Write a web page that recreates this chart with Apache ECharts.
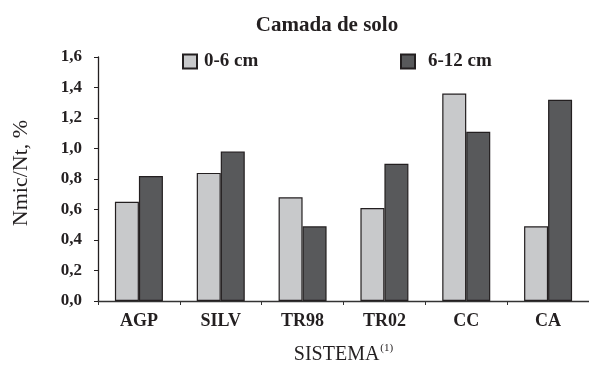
<!DOCTYPE html>
<html>
<head>
<meta charset="utf-8">
<script src="https://cdn.jsdelivr.net/npm/echarts@6/dist/echarts.min.js"></script>
<style>html,body{margin:0;padding:0;background:#fff;}#c{width:589px;height:370px;}</style>
</head>
<body>
<div id="c"></div>
<script>
var categories = ['AGP', 'SILV', 'TR98', 'TR02', 'CC', 'CA'];
var seriesNames = ['0-6 cm', '6-12 cm'];
var layer0to6 = [0.65, 0.84, 0.68, 0.61, 1.36, 0.49];
var layer6to12 = [0.82, 0.98, 0.49, 0.90, 1.11, 1.32];
var yTicks = [0, 0.2, 0.4, 0.6, 0.8, 1.0, 1.2, 1.4, 1.6];

var FONT = '"Liberation Serif", "Times New Roman", serif';
var chart = echarts.init(document.getElementById('c'), null, {renderer: 'canvas'});
chart.setOption({
  animation: false,
  backgroundColor: '#ffffff',
  title: {
    text: 'Camada de solo',
    left: 322, textAlign: 'center', top: 10,
    textStyle: {fontFamily: FONT, fontWeight: 'bold', fontSize: 21, color: '#231f20'}
  },
  legend: [
    {data: [seriesNames[0]], left: 177, top: 47, icon: 'rect', itemWidth: 14, itemHeight: 14, itemGap: 0,
     textStyle: {fontFamily: FONT, fontWeight: 'bold', fontSize: 19, color: '#231f20', padding: [0,0,0,2]}},
    {data: [seriesNames[1]], left: 395, top: 47, icon: 'rect', itemWidth: 14, itemHeight: 14, itemGap: 0,
     textStyle: {fontFamily: FONT, fontWeight: 'bold', fontSize: 19, color: '#231f20', padding: [0,0,0,8]}}
  ],
  grid: {left: 98, right: 0, top: 57, bottom: 59, containLabel: false},
  xAxis: {
    type: 'category',
    data: categories,
    name: '{a|SISTEMA}{b|(1)}',
    nameLocation: 'middle',
    nameGap: 42,
    nameTextStyle: {
      rich: {
        a: {fontFamily: FONT, fontSize: 20, color: '#231f20', lineHeight: 22, verticalAlign: 'bottom'},
        b: {fontFamily: FONT, fontSize: 11, color: '#231f20', lineHeight: 22, verticalAlign: 'top', padding: [0,0,0,1]}
      }
    },
    axisLine: {lineStyle: {color: '#333333', width: 1.3}},
    axisTick: {show: true, inside: false, length: 4, lineStyle: {color: '#333333'}},
    axisLabel: {fontFamily: FONT, fontWeight: 'bold', fontSize: 18, color: '#231f20', margin: 11}
  },
  yAxis: {
    type: 'value',
    min: 0, max: 1.6, interval: 0.2,
    name: 'Nmic/Nt, %',
    nameLocation: 'middle',
    nameGap: 66,
    nameTextStyle: {fontFamily: FONT, fontSize: 22, color: '#231f20', padding: [0, 0, 0, 12]},
    axisLine: {show: true, lineStyle: {color: '#231f20', width: 1.3}},
    axisTick: {show: true, inside: false, length: 4, lineStyle: {color: '#231f20'}},
    splitLine: {show: false},
    axisLabel: {
      fontFamily: FONT, fontWeight: 'bold', fontSize: 17, color: '#231f20', margin: 16,
      formatter: function (v) { return yTicks.indexOf(Math.round(v * 10) / 10) >= 0 ? v.toFixed(1).replace('.', ',') : ''; }
    }
  },
  series: [
    {name: seriesNames[0], type: 'bar', data: layer0to6, barWidth: 24, barGap: '0%',
     itemStyle: {color: '#c8c9cb', borderColor: '#231f20', borderWidth: 1.2}},
    {name: seriesNames[1], type: 'bar', data: layer6to12, barWidth: 24, barGap: '0%',
     itemStyle: {color: '#58595b', borderColor: '#231f20', borderWidth: 1.2}}
  ]
});
</script>
</body>
</html>
